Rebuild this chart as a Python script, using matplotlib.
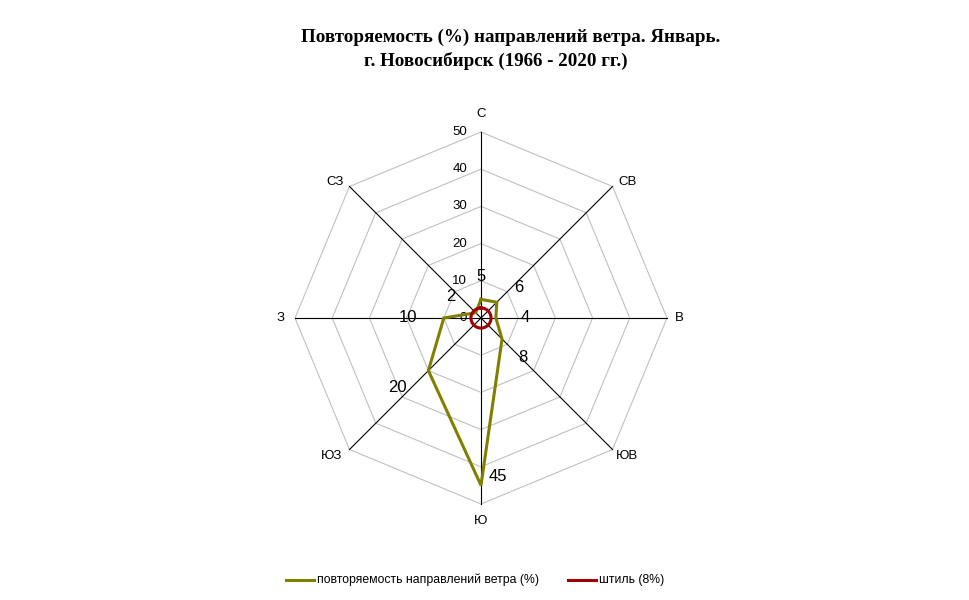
import numpy as np
import matplotlib
matplotlib.use('Agg')
import matplotlib.pyplot as plt
from matplotlib.lines import Line2D

# Data
directions = ['С', 'СВ', 'В', 'ЮВ', 'Ю', 'ЮЗ', 'З', 'СЗ']
frequency = [5, 6, 4, 8, 45, 20, 10, 2]
calm_radius = 2.7
grid_levels = [10, 20, 30, 40, 50]
tick_values = [0, 10, 20, 30, 40, 50]
label_offsets = [(0, 23), (22, 15), (29, 0), (21, -18), (17, 9), (-31, -17), (-36, 0), (-25, 16)]
name_offsets = [(0, 18), (15, 4), (12, 0), (14, -6), (0, -17), (-18, -6), (-14, 0), (-14, 4)]

plt.rcParams['font.family'] = ['Liberation Sans', 'DejaVu Sans']

OLIVE = '#808000'
RED = '#A00000'

# angles measured clockwise from north
angles = np.deg2rad(np.arange(len(directions)) * 360.0 / len(directions))


def to_xy(r, a):
    return np.asarray(r) * np.sin(a), np.asarray(r) * np.cos(a)


fig = plt.figure(figsize=(9.7, 6), dpi=100)
# 50 units = 186 px; centre at (481, 318) px
ppu = 186 / 50.0
half = 60 * ppu
ax = fig.add_axes([(481 - half) / 970, (282 - half) / 600, 2 * half / 970, 2 * half / 600])
ax.set_xlim(-60, 60)
ax.set_ylim(-60, 60)
ax.axis('off')

# octagonal grid
closed = np.append(angles, angles[0])
for lvl in grid_levels:
    gx, gy = to_xy(np.full(len(closed), lvl), closed)
    ax.plot(gx, gy, color='#C0C0C0', lw=0.8, zorder=1)

# spokes
for a in angles:
    sx, sy = to_xy([0, grid_levels[-1]], [a, a])
    ax.plot(sx, sy, color='black', lw=0.8, zorder=2)

# direction labels
for name, a, off in zip(directions, angles, name_offsets):
    lx, ly = to_xy(grid_levels[-1], a)
    ax.annotate(name, (lx, ly), xytext=off, textcoords='offset pixels',
                ha='center', va='center', fontsize=9.5)

# radial tick labels
for v in tick_values:
    ax.annotate(str(v), (0, v), xytext=(-14, 0), textcoords='offset pixels',
                ha='right', va='center', fontsize=9.5)

# wind frequency series
fr = np.append(frequency, frequency[0])
px, py = to_xy(fr, closed)
ax.plot(px, py, color=OLIVE, lw=2.2, zorder=4, solid_joinstyle='miter')

for v, a, off in zip(frequency, angles, label_offsets):
    x, y = to_xy(v, a)
    ax.annotate(str(v), (x, y), xytext=off, textcoords='offset pixels',
                ha='center', va='center', fontsize=12)

# calm circle
t = np.linspace(0, 2 * np.pi, 100)
cx, cy = to_xy(np.full(len(t), calm_radius), t)
ax.plot(cx, cy, color=RED, lw=2.2, zorder=5)

# title
fig.text(511 / 970, 1 - 37 / 600, 'Повторяемость (%) направлений ветра. Январь.',
         ha='center', va='center', fontsize=13.7, fontweight='bold', family='Liberation Serif')
fig.text(496 / 970, 1 - 61 / 600, 'г. Новосибирск (1966 - 2020 гг.)',
         ha='center', va='center', fontsize=13.7, fontweight='bold', family='Liberation Serif')

# legend
ly = 1 - 580 / 600
fig.add_artist(Line2D([286 / 970, 314 / 970], [ly, ly], color=OLIVE, lw=2.2))
fig.text(317 / 970, ly, 'повторяемость направлений ветра (%)', ha='left', va='center', fontsize=8.8)
fig.add_artist(Line2D([568 / 970, 596 / 970], [ly, ly], color=RED, lw=2.2))
fig.text(599 / 970, ly, 'штиль (8%)', ha='left', va='center', fontsize=8.8)

fig.savefig('out.png', dpi=100)
